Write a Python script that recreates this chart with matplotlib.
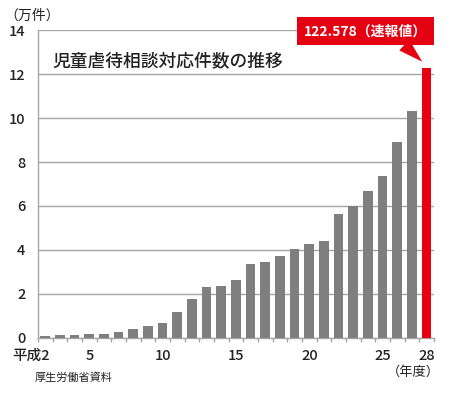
import matplotlib
matplotlib.use('Agg')
import matplotlib.pyplot as plt
import matplotlib.transforms as mtransforms
import numpy as np

plt.rcParams['font.family'] = ['Noto Sans CJK JP', 'DejaVu Sans']

# 年度 (平成) と児童虐待相談対応件数 (万件)
years = [2, 3, 4, 5, 6, 7, 8, 9, 10, 11, 12, 13, 14, 15, 16, 17, 18, 19,
         20, 21, 22, 23, 24, 25, 26, 27, 28]
counts = [0.1101, 0.1171, 0.1372, 0.1611, 0.1961, 0.2722, 0.4102, 0.5352,
          0.6932, 1.1631, 1.7725, 2.3274, 2.3738, 2.6569, 3.3408, 3.4472,
          3.7323, 4.0639, 4.2664, 4.4211, 5.6384, 5.9919, 6.6701, 7.3802,
          8.8931, 10.3286, 12.2578]
label_years = [2, 5, 10, 15, 20, 25, 28]
label_text = ['平成2', '5', '10', '15', '20', '25', '28']
y_ticks = [0, 2, 4, 6, 8, 10, 12, 14]

title = '児童虐待相談対応件数の推移'
note = '122.578（速報値）'

GRAY = '#7f7f7f'
RED = '#e50012'
LINE = '#a6a6a6'
TEXT = '#222222'

fig = plt.figure(figsize=(4.5, 3.96), dpi=100)
ax = fig.add_axes([0.0844, 0.1465, 0.88, 0.7777])

n = len(years)
x = np.arange(n)
colors = [GRAY] * (n - 1) + [RED]
ax.bar(x, counts, width=0.66, color=colors, zorder=3)

ax.set_xlim(-0.5, n - 0.5)
ax.set_ylim(0, 14)
ax.set_yticks(y_ticks)
ax.set_yticklabels([str(v) for v in y_ticks], fontsize=10.5, fontweight='medium',
                   color=TEXT)
ax.grid(True, axis='y', color=LINE, linewidth=1, zorder=0)

# 横軸ラベル
pos = [years.index(y) for y in label_years]
ax.set_xticks(pos)
ax.set_xticklabels(label_text, fontsize=10.5, fontweight='medium', color=TEXT)
ax.set_xticks(np.arange(n + 1) - 0.5, minor=True)
ax.tick_params(axis='x', which='major', length=0, pad=8)
ax.tick_params(axis='x', which='minor', length=3, color=LINE, width=1)
ax.tick_params(axis='y', length=0, pad=9)
first = ax.get_xticklabels()[0]
first.set_horizontalalignment('right')
first.set_transform(first.get_transform() +
                    mtransforms.ScaledTranslation(5 / 100, 0, fig.dpi_scale_trans))

for s in ['top', 'right']:
    ax.spines[s].set_visible(False)
for s in ['left', 'bottom']:
    ax.spines[s].set_color(LINE)
    ax.spines[s].set_linewidth(1)

ax.text(0.45, 12.6, title, fontsize=12.8, fontweight='medium', color=TEXT,
        ha='left', va='center', zorder=5)

# 速報値の吹き出し
ax.annotate(note, xy=(n - 1 - 0.3, counts[-1] + 0.3), xytext=(21.8, 13.95),
            textcoords='data', ha='center', va='center', fontsize=10,
            fontweight='bold', color='white', zorder=6,
            bbox=dict(boxstyle='square,pad=0.5', fc=RED, ec='none'),
            arrowprops=dict(arrowstyle='wedge,tail_width=1.05', fc=RED,
                            ec='none', relpos=(0.755, 0.02),
                            shrinkA=0, shrinkB=0))

fig.text(0.01, 0.96, '（万件）', fontsize=10, color=TEXT, ha='left', va='center')
fig.text(0.918, 0.06, '（年度）', fontsize=9.5, color=TEXT, ha='center', va='center')
fig.text(0.076, 0.047, '厚生労働省資料', fontsize=8, color=TEXT, ha='left',
         va='center')

fig.savefig('out.png', dpi=100)
